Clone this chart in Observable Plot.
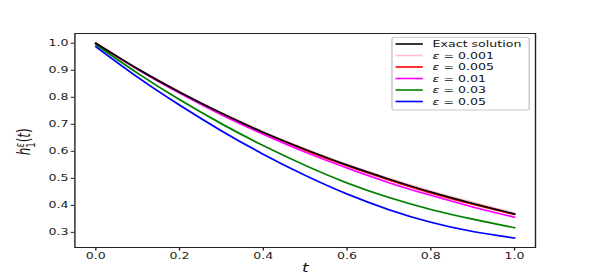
<!DOCTYPE html>
<html>
<head>
<meta charset="utf-8">
<script src="https://cdn.jsdelivr.net/npm/d3@7"></script>
<script src="https://cdn.jsdelivr.net/npm/@observablehq/plot@0.6"></script>
<style>
  html, body { margin: 0; padding: 0; background: white; overflow: hidden; }
  #chart svg { transform: scaleX(1.4); transform-origin: 0 0; display: block; }
</style>
</head>
<body>
<div id="chart"></div>
<script>
const tValues = [0, 0.1, 0.2, 0.3, 0.4, 0.5, 0.6, 0.7, 0.8, 0.9, 1.0];
const exact   = [1.000, 0.905, 0.819, 0.741, 0.670, 0.607, 0.549, 0.497, 0.449, 0.407, 0.368];
const eps001  = [1.000, 0.906, 0.821, 0.743, 0.673, 0.610, 0.552, 0.500, 0.453, 0.411, 0.372];
const eps005  = [1.000, 0.904, 0.818, 0.739, 0.668, 0.604, 0.546, 0.494, 0.446, 0.404, 0.366];
const eps01   = [1.000, 0.903, 0.815, 0.735, 0.663, 0.597, 0.538, 0.484, 0.437, 0.394, 0.356];
const eps03   = [0.995, 0.889, 0.791, 0.702, 0.621, 0.548, 0.483, 0.429, 0.385, 0.349, 0.317];
const eps05   = [0.987, 0.874, 0.771, 0.676, 0.589, 0.511, 0.442, 0.384, 0.337, 0.303, 0.279];
const xTicks = [0, 0.2, 0.4, 0.6, 0.8, 1.0];
const yTicks = [0.3, 0.4, 0.5, 0.6, 0.7, 0.8, 0.9, 1.0];

const series = [
  {name: "0.001", values: eps001, color: "#ffc0cb"},
  {name: "0.005", values: eps005, color: "#ff0000"},
  {name: "0.01",  values: eps01,  color: "#ff00ff"},
  {name: "0.03",  values: eps03,  color: "#008000"},
  {name: "0.05",  values: eps05,  color: "#0000ff"},
  {name: "exact", values: exact,  color: "#000000"}
];
const legendItems = [
  {label: "Exact solution", color: "#000000", eps: false},
  {label: "0.001", color: "#ffc0cb", eps: true},
  {label: "0.005", color: "#ff0000", eps: true},
  {label: "0.01",  color: "#ff00ff", eps: true},
  {label: "0.03",  color: "#008000", eps: true},
  {label: "0.05",  color: "#0000ff", eps: true}
];

const W = 425;
const lineMarks = series.map(s =>
  Plot.line(tValues.map((t, i) => ({t, v: s.values[i]})), {
    x: "t", y: "v", stroke: s.color, strokeWidth: 1.6, curve: "natural"
  })
);

const plot = Plot.plot({
  width: W,
  height: 278,
  marginLeft: 53,
  marginRight: 43,
  marginTop: 33,
  marginBottom: 31,
  style: {fontFamily: "DejaVu Sans", fontSize: "9px", color: "#222", background: "white"},
  x: {domain: [-0.05, 1.05], label: null},
  y: {domain: [0.244, 1.036], label: null},
  marks: [
    ...lineMarks,
    Plot.frame({stroke: "#222", strokeWidth: 1}),
    Plot.axisX({ticks: xTicks, tickFormat: d3.format(".1f"), tickSize: 3.5, tickPadding: 2, label: null}),
    Plot.axisY({ticks: yTicks, tickFormat: d3.format(".1f"), tickSize: 2.5, tickPadding: 2, label: null})
  ]
});

const svg = d3.select(plot);

// x label
svg.append("text")
  .attr("x", 218).attr("y", 272)
  .attr("text-anchor", "middle")
  .attr("font-family", "DejaVu Sans")
  .attr("font-size", 12)
  .attr("font-style", "italic")
  .attr("fill", "#111")
  .text("t");

// y label h_1^eps(t)
const yl = svg.append("text")
  .attr("transform", "translate(21.5,141.7) rotate(-90)")
  .attr("text-anchor", "middle")
  .attr("font-family", "DejaVu Sans")
  .attr("font-size", 12)
  .attr("fill", "#111");
yl.append("tspan").attr("font-style", "italic").text("h");
yl.append("tspan").attr("font-style", "italic").attr("font-size", 8.4).attr("dy", "-0.55em").text("ε");
yl.append("tspan").attr("font-size", 8.4).attr("dx", "-0.55em").attr("dy", "0.95em").text("1");
yl.append("tspan").attr("dy", "-0.28em").text("(");
yl.append("tspan").attr("font-style", "italic").text("t");
yl.append("tspan").text(")");

// legend
const lg = svg.append("g")
  .attr("font-family", "DejaVu Sans")
  .attr("font-size", 9)
  .attr("text-anchor", "start");
lg.append("rect")
  .attr("x", 280).attr("y", 37.3).attr("width", 98).attr("height", 72.7)
  .attr("rx", 2).attr("fill", "white").attr("fill-opacity", 0.8)
  .attr("stroke", "#c8c8c8").attr("stroke-width", 1);
legendItems.forEach((it, i) => {
  const y = 44 + 11.5 * i;
  lg.append("line").attr("x1", 282.5).attr("x2", 302).attr("y1", y).attr("y2", y)
    .attr("stroke", it.color).attr("stroke-width", 1.6);
  const t = lg.append("text").attr("x", 309).attr("y", y).attr("dy", "0.35em")
    .attr("text-anchor", "start").attr("fill", "#111");
  if (it.eps) {
    t.append("tspan").attr("font-style", "italic").text("ε");
    t.append("tspan").text(" = " + it.label);
  } else {
    t.text(it.label);
  }
});

document.getElementById("chart").appendChild(plot);
</script>
</body>
</html>
